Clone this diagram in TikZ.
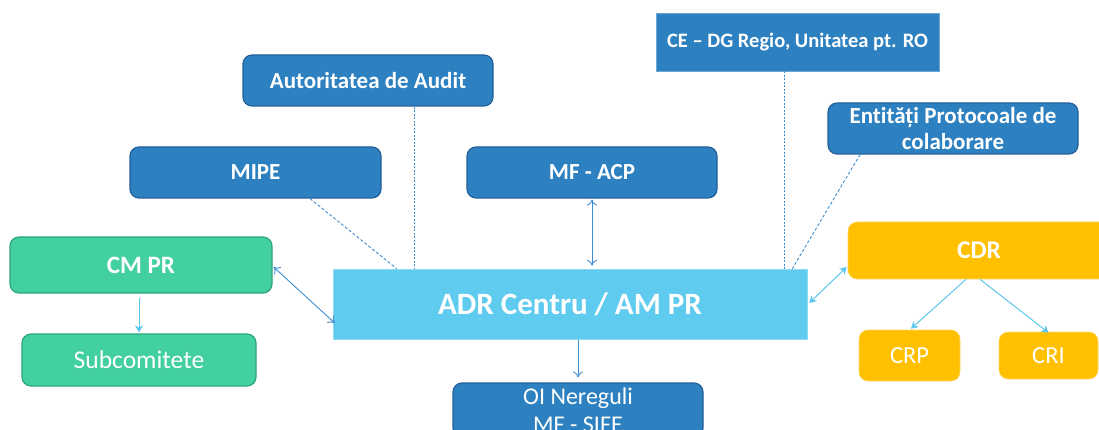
\documentclass[tikz,border=0pt]{standalone}
\usepackage{fontspec}
\setmainfont{Carlito}[Ligatures=NoCommon]
\usetikzlibrary{arrows.meta}
\definecolor{dblue}{HTML}{2E81C1}
\definecolor{dborder}{HTML}{23609A}
\definecolor{lblue}{HTML}{5FCBEF}
\definecolor{gfill}{HTML}{43D0A0}
\definecolor{gborder}{HTML}{2FA47E}
\definecolor{ofill}{HTML}{FFC000}
\definecolor{lineblue}{HTML}{3E8ED2}
\definecolor{linelight}{HTML}{5BC6EE}
\tikzset{
  bluebox/.style={draw=dborder, line width=1.2pt, fill=dblue, rounded corners=9pt, text=white, font=\fontsize{23}{26}\selectfont\bfseries, align=center, inner sep=0pt},
  cebox/.style={draw=dblue!70!white, line width=0.6pt, fill=dblue, text=white, font=\fontsize{20.5}{24}\selectfont\bfseries, inner sep=0pt},
  adrbox/.style={draw=lblue!70!white, line width=0.6pt, fill=lblue, text=white, font=\fontsize{31}{34}\selectfont\bfseries, inner sep=0pt},
  greenbox/.style={draw=gborder, line width=1.2pt, fill=gfill, rounded corners=9pt, text=white, inner sep=0pt},
  orangebox/.style={draw=ofill!60!white, line width=0.6pt, fill=ofill, rounded corners=9pt, text=white, inner sep=0pt},
  dashlink/.style={draw=lineblue, line width=0.9pt, dash pattern=on 3pt off 2pt},
  dotlink/.style={draw=lineblue, line width=0.9pt, dash pattern=on 2pt off 1.5pt},
  bilink/.style={draw=lineblue, line width=0.9pt, {To[length=6pt,width=10pt]}-{To[length=6pt,width=10pt]}},
  unilink/.style={draw=lineblue, line width=0.9pt, -{To[length=6pt,width=10pt]}},
  lightlink/.style={draw=linelight, line width=1pt, -{Stealth[length=7pt,width=8pt]}},
  lightbilink/.style={draw=linelight, line width=1pt, {Stealth[length=7pt,width=8pt]}-{Stealth[length=7pt,width=8pt]}}
}
\begin{document}
\begin{tikzpicture}[x=1pt,y=-1pt]
\useasboundingbox (0,0) rectangle (1099,430);
\clip (0,0) rectangle (1099,430);
\fill[white] (0,0) rectangle (1099,430);

\node[bluebox, minimum width=250pt, minimum height=51pt] (audit) at (368,80.5) {Autoritatea de Audit};
\node[bluebox, minimum width=251pt, minimum height=51pt] (mipe) at (255.5,172.5) {MIPE};
\node[bluebox, minimum width=250pt, minimum height=51pt] (mfacp) at (592,172.5) {MF - ACP};
\node[cebox, minimum width=283pt, minimum height=58pt] (ce) at (797.5,42) {CE – DG Regio, Unitatea pt. RO};
\node[bluebox, minimum width=250pt, minimum height=51pt] (ent) at (953,128.5) {Entități Protocoale de\\colaborare};
\node[greenbox, minimum width=262pt, minimum height=56pt, font=\fontsize{25}{28}\selectfont\bfseries] (cmpr) at (141,265) {CM PR};
\node[greenbox, minimum width=234pt, minimum height=52pt, font=\fontsize{25.5}{28}\selectfont] (sub) at (139,360) {Subcomitete};
\node[adrbox, minimum width=474pt, minimum height=70pt] (adr) at (570,304) {ADR Centru / AM PR};
\node[bluebox, minimum width=250pt, minimum height=54pt, font=\fontsize{24}{28.5}\selectfont] (oi) at (578,410) {OI Nereguli\\MF - SIFE};
\node[orangebox, minimum width=262pt, minimum height=57pt, font=\fontsize{25.5}{28}\selectfont\bfseries] (cdr) at (979,250.5) {CDR};
\node[orangebox, minimum width=101pt, minimum height=51pt, font=\fontsize{24.5}{28}\selectfont] (crp) at (909.5,355.5) {CRP};
\node[orangebox, minimum width=99pt, minimum height=47pt, font=\fontsize{24.5}{28}\selectfont] (cri) at (1048.5,355.5) {CRI};

% connectors
\draw[dashlink] ([xshift=54.5pt]mipe.south) -- ([xshift=64pt]adr.north west);
\coordinate (aud) at ([xshift=46pt]audit.south);
\draw[dotlink] (aud) -- (aud |- adr.north);
\draw[bilink] ([yshift=-1pt]mfacp.south) -- ([yshift=3pt]mfacp.south |- adr.north);
\coordinate (cep) at ([xshift=-13.5pt]ce.south);
\draw[dotlink] (cep) -- (cep |- adr.north);
\draw[dashlink] ([xshift=-93pt]ent.south) -- ([xshift=-15pt]adr.north east);
\draw[bilink] ([xshift=1pt,yshift=-2pt]cmpr.east) -- ([xshift=2pt,yshift=-19pt]adr.west);
\draw[lightlink] ([yshift=-4pt]sub.north |- cmpr.south) -- ([yshift=1pt]sub.north);
\draw[unilink] ([yshift=-1pt]oi.north |- adr.south) -- ([yshift=5pt]oi.north);
\draw[lightbilink] ([xshift=2pt,yshift=1pt]adr.east) -- ([xshift=-1pt,yshift=-16.5pt]cdr.west);
\draw[lightlink] ([xshift=-13pt]cdr.south) -- ([xshift=1.5pt,yshift=1pt]crp.north);
\draw[lightlink] ([xshift=1pt]cdr.south) -- ([yshift=-1pt]cri.north);
\end{tikzpicture}
\end{document}
